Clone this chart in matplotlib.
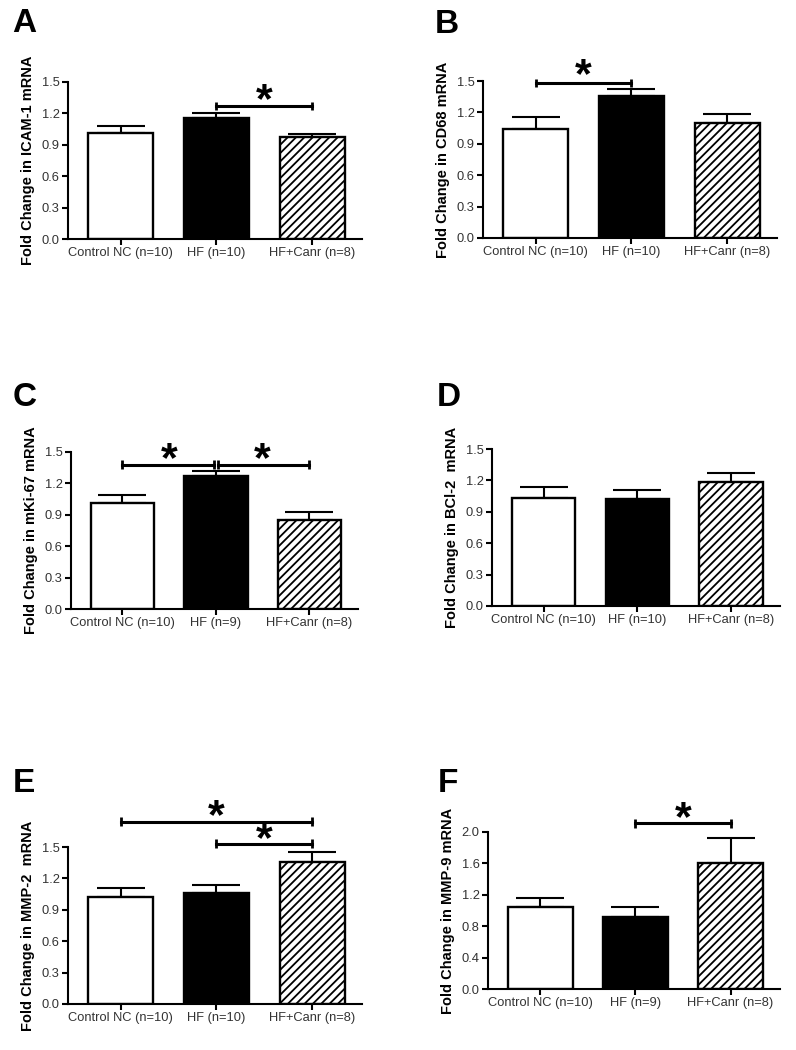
import numpy as np
import matplotlib.pyplot as plt

plt.rcParams['font.family'] = ['Liberation Sans', 'DejaVu Sans']
plt.rcParams['hatch.linewidth'] = 1.3

groups = ['Control NC', 'HF', 'HF+Canr']

# panel data: mean, upper error (SEM), n per group
icam_mean = [1.01, 1.16, 0.97]
icam_err = [0.07, 0.04, 0.03]
icam_n = [10, 10, 8]

cd68_mean = [1.04, 1.36, 1.10]
cd68_err = [0.12, 0.06, 0.08]
cd68_n = [10, 10, 8]

mki67_mean = [1.01, 1.27, 0.85]
mki67_err = [0.08, 0.05, 0.08]
mki67_n = [10, 9, 8]

bcl2_mean = [1.03, 1.02, 1.18]
bcl2_err = [0.11, 0.09, 0.09]
bcl2_n = [10, 10, 8]

mmp2_mean = [1.02, 1.06, 1.36]
mmp2_err = [0.09, 0.08, 0.09]
mmp2_n = [10, 10, 8]

mmp9_mean = [1.04, 0.92, 1.60]
mmp9_err = [0.12, 0.12, 0.32]
mmp9_n = [10, 9, 8]

# significance brackets: (from group, to group, bracket height, star height)
icam_sig = [(1, 2, 1.27, 1.36)]
cd68_sig = [(0, 1, 1.48, 1.59)]
mki67_sig = [(0, 1, 1.38, 1.46), (1, 2, 1.38, 1.46)]
bcl2_sig = []
mmp2_sig = [(0, 2, 1.74, 1.83), (1, 2, 1.53, 1.61)]
mmp9_sig = [(1, 2, 2.11, 2.22)]

W, H = 796, 1050
fig = plt.figure(figsize=(W / 100, H / 100), dpi=100)

panels = [
    ('A', 'Fold Change in ICAM-1 mRNA', icam_mean, icam_err, icam_n, icam_sig, 1.5, 0.3,
     (68, 362, 82, 239), (12, 8)),
    ('B', 'Fold Change in CD68 mRNA', cd68_mean, cd68_err, cd68_n, cd68_sig, 1.5, 0.3,
     (483, 777, 81, 238), (435, 9)),
    ('C', 'Fold Change in mKi-67 mRNA', mki67_mean, mki67_err, mki67_n, mki67_sig, 1.5, 0.3,
     (71, 358, 452, 609), (13, 382)),
    ('D', 'Fold Change in BCl-2  mRNA', bcl2_mean, bcl2_err, bcl2_n, bcl2_sig, 1.5, 0.3,
     (492, 780, 449, 606), (437, 382)),
    ('E', 'Fold Change in MMP-2  mRNA', mmp2_mean, mmp2_err, mmp2_n, mmp2_sig, 1.5, 0.3,
     (68, 362, 847, 1004), (13, 768)),
    ('F', 'Fold Change in MMP-9 mRNA', mmp9_mean, mmp9_err, mmp9_n, mmp9_sig, 2.0, 0.4,
     (488, 780, 832, 989), (438, 768)),
]

x = np.arange(3)
for letter, ylab, mean, err, n, sig, ymax, ystep, box, lpos in panels:
    l, r, t, b = box
    ax = fig.add_axes([l / W, 1 - b / H, (r - l) / W, (b - t) / H])
    ax.errorbar(x, mean, yerr=[[0, 0, 0], err], fmt='none', ecolor='black',
                elinewidth=1.5, capsize=17, capthick=1.5, zorder=1)
    bars = ax.bar(x, mean, width=0.68, color=['white', 'black', 'white'],
                  edgecolor='black', linewidth=1.7, zorder=2)
    bars[2].set_hatch('////')
    ax.set_xlim(-0.55, 2.52)
    ax.set_ylim(0, ymax)
    ax.set_yticks(np.arange(0, ymax + 1e-9, ystep))
    ax.set_yticklabels([f'{v:.1f}' for v in np.arange(0, ymax + 1e-9, ystep)])
    ax.set_xticks(x)
    ax.set_xticklabels([f'{g} (n={k})' for g, k in zip(groups, n)])
    for s in ['top', 'right']:
        ax.spines[s].set_visible(False)
    for s in ['left', 'bottom']:
        ax.spines[s].set_linewidth(1.5)
    ax.tick_params(axis='both', direction='out', length=4, width=1.5,
                   labelsize=9.3, labelcolor='#333333', pad=2)
    ax.set_ylabel(ylab, fontsize=10.5, fontweight='bold', labelpad=5)
    for i, j, h, sh in sig:
        off = 0.025 if (len(sig) > 1 and sig[0][1] == sig[1][0]) else 0
        x0 = i + (off if i == 1 else 0)
        x1 = j - (off if j == 1 else 0)
        ax.errorbar([x0, x1], [h, h], yerr=ymax * 0.028, fmt='-', color='black',
                    lw=2.2, capsize=0, elinewidth=2, clip_on=False)
        ax.annotate('*', xy=((i + j) / 2, sh), xytext=(0, -3), textcoords='offset points',
                    fontsize=31, fontweight='bold', ha='center', va='center',
                    annotation_clip=False)
    fig.text(lpos[0] / W, 1 - lpos[1] / H, letter, fontsize=24, fontweight='bold',
             ha='left', va='top')

fig.savefig('out.png', dpi=100)
